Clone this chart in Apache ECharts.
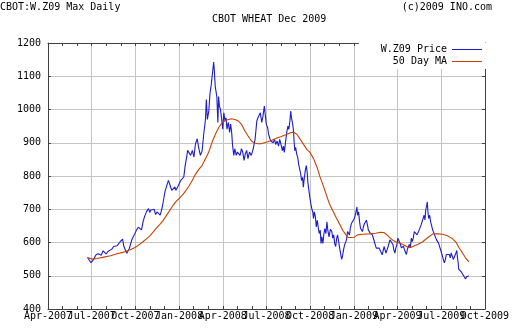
<!DOCTYPE html>
<html><head><meta charset="utf-8">
<script src="https://cdn.jsdelivr.net/npm/echarts@6/dist/echarts.min.js"></script>
<style>html,body{margin:0;padding:0;background:#fff}#c{width:512px;height:336px}</style>
</head><body><div id="c"></div>
<script>
// x values are fractional years (2007.25 = 1 Apr 2007)
const priceT = [2007.476,2007.486,2007.496,2007.501,2007.508,2007.518,2007.525,2007.537,2007.546,2007.555,2007.565,2007.574,2007.583,2007.593,2007.604,2007.615,2007.626,2007.636,2007.645,2007.654,2007.664,2007.677,2007.683,2007.692,2007.701,2007.707,2007.716,2007.724,2007.731,2007.739,2007.748,2007.757,2007.767,2007.776,2007.785,2007.795,2007.804,2007.813,2007.819,2007.825,2007.833,2007.836,2007.847,2007.857,2007.866,2007.874,2007.883,2007.892,2007.902,2007.911,2007.919,2007.930,2007.939,2007.948,2007.958,2007.967,2007.976,2007.982,2007.992,
2008.001,2008.010,2008.020,2008.027,2008.035,2008.042,2008.049,2008.057,2008.066,2008.076,2008.085,2008.094,2008.104,2008.113,2008.122,2008.132,2008.142,2008.151,2008.156,2008.162,2008.170,2008.177,2008.184,2008.192,2008.198,2008.201,2008.207,2008.211,2008.216,2008.222,2008.226,2008.231,2008.237,2008.244,2008.250,2008.256,2008.263,2008.269,2008.274,2008.282,2008.289,2008.295,2008.301,2008.306,2008.313,2008.319,2008.327,2008.334,2008.342,2008.349,2008.357,2008.364,2008.372,2008.379,2008.387,2008.394,2008.403,2008.413,2008.422,2008.428,2008.435,2008.445,2008.451,2008.458,2008.465,2008.473,2008.480,2008.488,2008.493,2008.499,2008.507,2008.512,2008.520,2008.525,2008.531,2008.538,2008.546,2008.553,2008.561,2008.569,2008.576,2008.583,2008.591,2008.597,2008.602,2008.610,2008.617,2008.623,2008.628,2008.634,2008.639,2008.643,2008.649,2008.655,2008.658,2008.662,2008.667,2008.673,2008.679,2008.684,2008.690,2008.696,2008.701,2008.707,2008.711,2008.716,2008.722,2008.728,2008.733,2008.737,2008.743,2008.748,2008.754,2008.760,2008.765,2008.769,2008.774,2008.780,2008.785,2008.791,2008.797,2008.802,2008.808,2008.812,2008.817,2008.823,2008.829,2008.834,2008.840,2008.846,2008.851,2008.858,2008.866,2008.874,2008.879,2008.885,2008.890,2008.896,2008.902,2008.907,2008.913,2008.919,2008.924,2008.930,2008.935,2008.941,2008.947,2008.952,2008.958,2008.964,2008.969,2008.975,2008.980,2008.986,2008.992,2008.997,
2009.003,2009.008,2009.014,2009.018,2009.021,2009.027,2009.033,2009.038,2009.044,2009.049,2009.055,2009.061,2009.066,2009.072,2009.078,2009.083,2009.089,2009.094,2009.100,2009.106,2009.111,2009.117,2009.122,2009.128,2009.134,2009.139,2009.145,2009.151,2009.156,2009.162,2009.167,2009.173,2009.179,2009.184,2009.190,2009.196,2009.201,2009.207,2009.212,2009.218,2009.224,2009.229,2009.235,2009.240,2009.246,2009.252,2009.257,2009.263,2009.267,2009.272,2009.278,2009.284,2009.289,2009.295,2009.301,2009.306,2009.312,2009.317,2009.323,2009.329,2009.334,2009.340,2009.346,2009.351,2009.357,2009.362,2009.368,2009.374,2009.379,2009.385,2009.390,2009.396,2009.402,2009.407,2009.411,2009.417,2009.420,2009.424,2009.428,2009.434,2009.439,2009.445,2009.451,2009.456,2009.462,2009.467,2009.473,2009.479,2009.484,2009.490,2009.496,2009.501,2009.507,2009.512,2009.518,2009.524,2009.529,2009.535,2009.540,2009.546,2009.552,2009.557,2009.563,2009.569,2009.574,2009.580,2009.585,2009.589,2009.593,2009.597,2009.600,2009.606,2009.611,2009.617,2009.623,2009.628,2009.634,2009.639,2009.645,2009.651,2009.655,2009.658];
const priceV = [555,558,539,534,547,553,563,566,570,562,575,570,566,573,568,580,588,582,590,586,603,610,590,578,568,573,583,598,610,610,628,638,646,652,638,665,680,692,697,702,690,697,692,700,684,692,697,682,702,727,752,772,787,782,757,752,767,757,767,
777,787,782,797,832,852,877,872,862,877,857,897,912,882,862,876,931,970,1030,970,995,1049,1074,1079,1143,1123,1069,1074,1039,961,1039,1010,1000,970,941,990,966,975,941,961,931,956,931,892,862,882,862,872,877,862,882,872,847,867,877,852,872,862,877,892,911,966,975,970,990,961,980,1010,985,956,945,926,912,905,910,900,910,895,905,890,910,895,876,890,871,905,935,950,940,965,995,975,960,935,905,876,886,866,856,836,821,806,786,796,766,791,816,831,811,781,756,736,716,700,692,672,692,677,647,667,642,627,637,597,617,597,627,642,627,662,637,617,640,633,613,623,598,588,613,623,603,583,568,549,558,578,593,588,608,633,628,623,643,657,652,662,
672,682,697,707,682,692,662,643,648,633,648,657,652,667,652,638,643,628,633,623,618,603,598,583,578,588,583,588,578,563,573,588,583,568,578,588,583,608,603,608,593,578,568,583,593,613,618,613,594,584,579,589,579,574,564,579,584,594,584,613,603,613,633,638,633,623,628,638,635,653,658,672,682,668,697,712,722,692,672,682,663,658,638,643,623,618,608,603,599,594,579,574,559,549,539,549,564,559,569,564,554,569,559,549,544,554,569,576,554,539,520,515,520,510,505,500,497,490,497,500,495,500];
const maT = [2007.476,2007.503,2007.531,2007.570,2007.608,2007.645,2007.683,2007.720,2007.739,2007.757,2007.776,2007.795,2007.813,2007.833,2007.851,2007.870,2007.889,2007.907,2007.926,2007.945,2007.963,2007.982,2008.001,2008.020,2008.038,2008.057,2008.076,2008.094,2008.113,2008.132,2008.151,2008.170,2008.188,2008.207,2008.226,2008.244,2008.263,2008.282,2008.301,2008.319,2008.338,2008.357,2008.375,2008.394,2008.413,2008.431,2008.451,2008.469,2008.488,2008.507,2008.525,2008.553,2008.581,2008.610,2008.638,2008.656,2008.675,2008.694,2008.712,2008.731,2008.750,2008.769,2008.788,2008.806,2008.825,2008.844,2008.862,2008.881,2008.900,2008.919,2008.937,2008.956,2008.969,2008.986,2009.003,2009.021,2009.049,2009.087,2009.125,2009.153,2009.171,2009.190,2009.209,2009.228,2009.246,2009.265,2009.284,2009.312,2009.330,2009.350,2009.368,2009.396,2009.424,2009.452,2009.480,2009.508,2009.537,2009.565,2009.583,2009.602,2009.621,2009.639,2009.658];
const maV = [555,550,552,556,560,566,571,578,583,588,595,603,611,620,631,643,654,665,680,695,710,723,733,743,755,770,787,805,820,832,852,872,901,925,945,959,966,970,972,970,966,956,937,921,906,899,897,897,900,903,906,913,918,924,930,932,925,910,895,880,870,853,828,798,771,741,714,694,674,655,636,622,615,615,616,623,625,626,628,631,630,623,613,605,601,598,593,585,586,591,595,603,615,626,626,625,620,611,602,584,569,554,542];
const seriesNames = ['W.Z09 Price','50 Day MA'];
const quarterNames = ['Jan','Apr','Jul','Oct'];

const FONT = 'DejaVu Sans Mono';
const X_MIN = 2007.25, X_MAX = 2009.75, X_STEP = 0.25;
const zip = (a, b) => a.map((t, i) => [t, b[i]]);
const fmtX = v => {
  const y = Math.floor(v + 1e-6);
  const q = Math.round((v - y) * 4);
  return quarterNames[q] + '-' + y;
};
// two interleaved label rows so that the overlapping labels are all kept
const fmtParity = parity => v => (Math.round((v - X_MIN) / X_STEP) % 2 === parity ? fmtX(v) : '');
const frame = '#404040', grid = '#c4c4c4';
const txt = {fontFamily: FONT, fontSize: 10, color: '#000', fontWeight: 'normal'};
const labelStyle = {show: true, margin: 2, fontFamily: FONT, fontSize: 10, color: '#000',
  showMinLabel: true, showMaxLabel: true, hideOverlap: false};
const xBase = {type: 'value', min: X_MIN, max: X_MAX, interval: X_STEP,
  axisLine: {show: true, lineStyle: {color: frame}},
  axisTick: {show: true, inside: true, length: 3, lineStyle: {color: frame}},
  minorTick: {show: true, splitNumber: 3, length: 3, lineStyle: {color: frame}}};
const yBase = {type: 'value', min: 400, max: 1200, interval: 100,
  axisLine: {show: true, lineStyle: {color: frame}},
  axisTick: {show: true, inside: true, length: 3, lineStyle: {color: frame}}};

const chart = echarts.init(document.getElementById('c'), null, {renderer: 'canvas'});
chart.setOption({
  animation: false,
  backgroundColor: '#fff',
  title: [
    {text: 'CBOT:W.Z09 Max Daily', left: 0, top: 2, padding: 0, textStyle: txt},
    {text: 'CBOT WHEAT Dec 2009', left: 212, top: 14, padding: 0, textStyle: txt},
    {text: '(c)2009 INO.com', right: 20, top: 2, padding: 0, textStyle: txt}
  ],
  legend: {
    data: seriesNames, orient: 'vertical', right: 20, top: 43, align: 'right',
    icon: 'rect', itemWidth: 30, itemHeight: 1, itemGap: 1, padding: [1, 10, 2, 22],
    backgroundColor: '#fff', textStyle: {fontFamily: FONT, fontSize: 10, color: '#000', lineHeight: 11}
  },
  grid: {left: 48, right: 19, top: 43, bottom: 27},
  xAxis: [
    Object.assign({}, xBase, {position: 'bottom',
      splitLine: {show: true, lineStyle: {color: grid, width: 1}},
      axisLabel: Object.assign({}, labelStyle, {formatter: fmtParity(0)})}),
    Object.assign({}, xBase, {position: 'top', splitLine: {show: false}, axisLabel: {show: false}}),
    {type: 'value', min: X_MIN, max: X_MAX, interval: X_STEP, position: 'bottom',
      axisLine: {show: false}, axisTick: {show: false}, minorTick: {show: false}, splitLine: {show: false},
      axisLabel: Object.assign({}, labelStyle, {formatter: fmtParity(1)})}
  ],
  yAxis: [
    Object.assign({}, yBase, {position: 'left',
      splitLine: {show: true, lineStyle: {color: grid, width: 1}},
      axisLabel: {show: true, margin: 7, fontFamily: FONT, fontSize: 10, color: '#000', formatter: v => String(v)}}),
    Object.assign({}, yBase, {position: 'right', splitLine: {show: false}, axisLabel: {show: false}})
  ],
  series: [
    {name: seriesNames[0], type: 'line', xAxisIndex: 0, yAxisIndex: 0, data: zip(priceT, priceV),
     symbol: 'none', color: '#1c1ccc', lineStyle: {color: '#1c1ccc', width: 1.1}},
    {name: seriesNames[1], type: 'line', xAxisIndex: 0, yAxisIndex: 0, data: zip(maT, maV),
     symbol: 'none', color: '#c84000', lineStyle: {color: '#c84000', width: 1.1}}
  ]
});
</script></body></html>
